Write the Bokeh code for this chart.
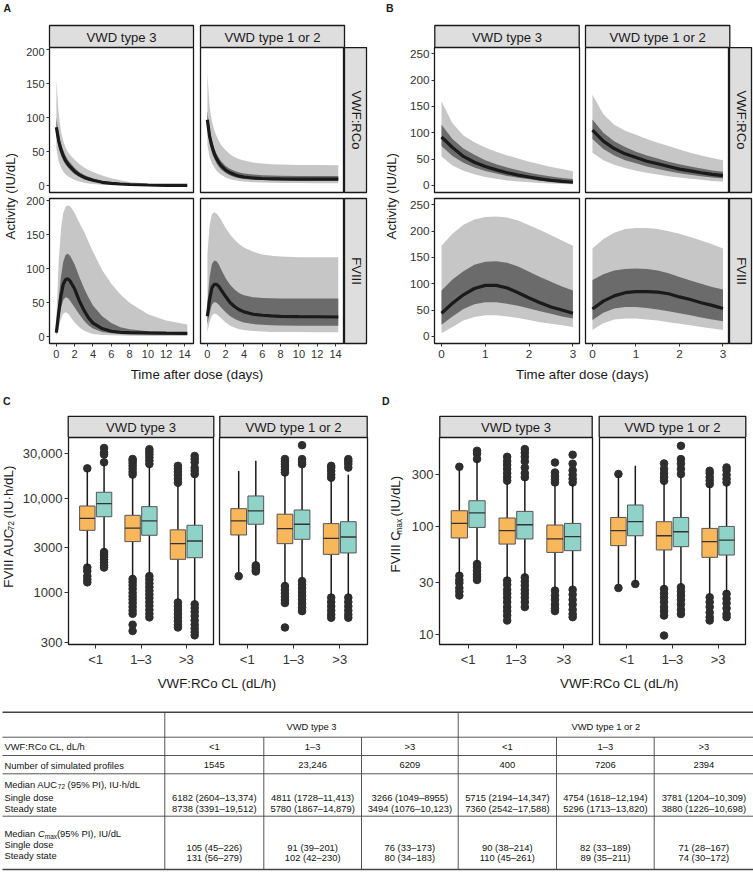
import math
from bokeh.plotting import figure
from bokeh.layouts import row, column
from bokeh.models import Range1d, LinearAxis, LogAxis, FixedTicker
from bokeh.core.properties import value
from bokeh.embed import file_html
from bokeh.resources import INLINE

# ======================= DATA =======================
facets = ["VWD type 3", "VWD type 1 or 2"]
analytes = ["VWF:RCo", "FVIII"]

# Panel A: single dose, time after dose (days)
tA = [0, 0.25, 0.5, 0.75, 1, 1.25, 1.5, 2, 2.5, 3, 3.5, 4, 5, 6, 7, 8, 10, 12, 14.3]
a3_rco_med = [86, 66, 53, 44, 37, 32, 28, 21, 16, 12.5, 10, 8, 5, 3.5, 2.5, 1.8, 1, 0.6, 0.4]
a3_rco_hi90 = [155, 106, 80, 66, 56, 50, 45, 38, 32, 27, 23, 20, 15, 11, 8, 5.5, 2.8, 1.5, 1]
a3_rco_hi50 = [100, 76, 62, 52, 44, 38, 34, 26, 20, 16, 13, 10.5, 7, 5, 3.6, 2.6, 1.5, 0.9, 0.6]
a3_rco_lo50 = [74, 56, 45, 37, 31, 27, 23, 17, 13, 9.5, 7.5, 6, 3.6, 2.4, 1.6, 1.1, 0.6, 0.35, 0.2]
a3_rco_lo90 = [55, 36, 27, 21, 17, 14, 12, 8.5, 6, 4.5, 3.4, 2.6, 1.5, 1, 0.7, 0.5, 0.3, 0.2, 0.1]

a12_rco_med = [97, 72, 58, 47, 40, 34, 29.5, 23, 19, 16, 14, 12.8, 11.3, 10.6, 10.2, 10, 9.8, 9.7, 9.6]
a12_rco_hi90 = [165, 115, 95, 82, 73, 66, 60, 52, 46, 42, 39, 37, 34, 32.5, 31.5, 31, 30.5, 30.3, 30.2]
a12_rco_hi50 = [110, 82, 66, 55, 47, 41, 36, 29, 24.5, 21.5, 19.5, 18, 16.5, 15.5, 15, 14.7, 14.4, 14.3, 14.2]
a12_rco_lo50 = [85, 62, 49, 40, 33, 28, 24, 18.5, 15, 12.5, 11, 10, 8.8, 8.2, 7.8, 7.6, 7.4, 7.3, 7.2]
a12_rco_lo90 = [60, 42, 33, 27, 22, 18.5, 16, 12, 9.5, 8, 7, 6.2, 5.2, 4.6, 4.2, 4, 3.8, 3.7, 3.6]

a3_f8_med = [6, 35, 60, 77, 84, 85, 82, 70, 53, 39, 28, 20, 12, 8, 6.5, 6, 5.5, 5.2, 5]
a3_f8_hi90 = [25, 110, 158, 182, 191, 193, 192, 182, 168, 155, 140, 125, 98, 78, 62, 50, 33, 24, 18]
a3_f8_hi50 = [12, 55, 88, 110, 120, 122, 119, 106, 88, 72, 58, 46, 30, 20, 14, 11, 8, 7, 6.5]
a3_f8_lo50 = [3, 22, 42, 54, 58, 57, 53, 43, 33, 24, 17, 12, 7, 5, 4, 3.5, 3.2, 3, 3]
a3_f8_lo90 = [1, 12, 26, 34, 36, 34, 30, 21, 14, 9, 6, 4, 2.5, 2, 1.6, 1.4, 1.2, 1.1, 1]

a12_f8_med = [30, 55, 72, 77, 77, 74, 69, 59, 50, 44, 39.5, 36.5, 33, 31.5, 30.5, 30, 29.5, 29.3, 29]
a12_f8_hi90 = [120, 165, 180, 183, 181, 177, 172, 160, 150, 142, 136, 131, 125, 121, 119, 118, 117, 117, 117]
a12_f8_hi50 = [48, 88, 107, 112, 111, 106, 99, 86, 76, 69, 64, 61, 58, 57, 56.5, 56, 56, 56, 56]
a12_f8_lo50 = [18, 35, 47, 51, 50, 47, 43, 36, 30, 26, 23, 21, 18.5, 17.5, 17, 16.5, 16, 16, 16]
a12_f8_lo90 = [7, 22, 31, 34, 33, 30, 27, 21, 16, 13, 11, 10, 8.5, 7.5, 7, 7, 6.8, 6.7, 6.7]

# Panel B: steady state, time after dose (days)
tB = [0, 0.25, 0.5, 0.75, 1, 1.25, 1.5, 1.75, 2, 2.25, 2.5, 2.75, 3]
b3_rco_med = [92, 72, 55, 44, 36, 29.5, 24, 19.5, 16, 12.5, 9.5, 7.5, 6]
b3_rco_hi90 = [160, 118, 95, 82, 72, 64, 57, 51, 45, 40, 35, 31, 27]
b3_rco_hi50 = [115, 88, 70, 58, 48, 40, 34, 29, 24, 20, 17, 14, 12]
b3_rco_lo50 = [75, 56, 43, 34, 27.5, 22.5, 18, 14.5, 11.5, 9, 7, 5.5, 4.2]
b3_rco_lo90 = [55, 38, 28, 21, 16, 12.5, 9.5, 7.5, 6, 4.5, 3.5, 2.5, 2]

b12_rco_med = [105, 84, 70, 60, 53, 46, 41, 36, 31, 27.5, 24, 21, 18.5]
b12_rco_hi90 = [172, 135, 115, 104, 96, 88, 81, 75, 68, 62, 57, 52, 48]
b12_rco_hi50 = [125, 100, 84, 73, 64, 57, 51, 45, 40, 36, 32, 28.5, 26]
b12_rco_lo50 = [88, 69, 57, 48, 42, 36, 31, 27, 23, 20, 17.5, 15, 13]
b12_rco_lo90 = [62, 48, 39, 33, 28, 24, 20.5, 17.5, 15, 12.5, 10.5, 8.5, 7]

b3_f8_med = [44, 63, 79, 91, 97, 97, 92, 83, 73, 64, 56, 50, 44]
b3_f8_hi90 = [172, 195, 212, 222, 227, 228, 226, 220, 211, 202, 192, 182, 172]
b3_f8_hi50 = [87, 108, 124, 136, 142, 143, 140, 133, 123, 113, 104, 95, 87]
b3_f8_lo50 = [22, 38, 52, 61, 65, 65, 62, 58, 53, 48, 43, 38, 34]
b3_f8_lo90 = [6, 18, 30, 37, 40, 40, 38, 35, 31, 27, 24, 21, 18]

b12_f8_med = [52, 67, 77, 83, 85, 85, 84, 81, 75, 70, 64, 59, 53]
b12_f8_hi90 = [167, 185, 197, 204, 206, 206, 204, 200, 195, 189, 182, 175, 167]
b12_f8_hi50 = [107, 118, 125, 128, 129, 128, 125, 120, 113, 106, 100, 94, 89]
b12_f8_lo50 = [31, 45, 53, 56, 56, 54, 51, 48, 44, 40, 36, 32, 29]
b12_f8_lo90 = [12, 25, 32, 34, 34, 32, 30, 27, 24, 21, 18, 15, 12]

# Panels C/D: boxes ordered <1 SD, <1 SS, 1-3 SD, 1-3 SS, >3 SD, >3 SS
cl_cats = ["<1", "1–3", ">3"]
regimens = ["Single dose", "Steady state"]

auc3_q1 = [4580, 6380, 3480, 4060, 2260, 2350]
auc3_med = [6140, 8770, 4820, 5750, 3310, 3530]
auc3_q3 = [8280, 11570, 6600, 8150, 4630, 5180]
auc3_wlo = [1950, 2850, 1500, 1600, 850, 820]
auc3_whi = [19500, 22500, 16500, 21500, 13500, 16500]
auc3_out = [
    [20700, 1850, 1700, 1500, 1380, 1290],
    [34000, 30500, 29000, 24000, 2700, 2550, 2400, 2250, 2100, 1950, 1850],
    [17800, 19000, 20500, 22000, 23500, 25000, 26000, 1400, 1300, 1200, 1100, 1000, 920, 850, 780, 710, 650, 600, 460, 395],
    [23000, 25000, 27000, 29000, 31000, 33000, 1500, 1380, 1260, 1150, 1050, 960, 880, 800, 730, 660, 600, 550],
    [14600, 16000, 17500, 19000, 20500, 22000, 790, 720, 660, 600, 550, 500, 460, 430],
    [18000, 19500, 21000, 24000, 26000, 28000, 755, 690, 630, 570, 510, 460, 420, 385, 355],
]
auc12_q1 = [4090, 5310, 3310, 3680, 2550, 2640]
auc12_med = [5750, 7350, 4770, 5310, 3770, 3890]
auc12_q3 = [7760, 10570, 6780, 7510, 5390, 5650]
auc12_wlo = [1650, 2100, 1250, 1450, 950, 950]
auc12_whi = [19450, 24850, 17500, 21000, 15500, 17700]
auc12_out = [
    [1500],
    [1950, 1850, 1750, 1680],
    [18700, 20000, 21500, 23000, 24500, 26000, 1180, 1080, 990, 910, 840, 780, 430],
    [22900, 24200, 25900, 36400, 1330, 1220, 1120, 1020, 930, 850, 770, 700, 640],
    [16500, 17800, 19500, 21000, 22000, 890, 800, 720, 650, 590, 545],
    [21100, 23000, 24500, 25900, 890, 800, 720, 650, 590, 545],
]

cmax3_q1 = [78.2, 97.9, 68.7, 76.6, 57.5, 59.7]
cmax3_med = [106.6, 133.6, 91.3, 103.7, 76.6, 80.4]
cmax3_q3 = [139.7, 172.8, 119.6, 137.8, 103, 106.6]
cmax3_wlo = [37, 47, 33, 35, 27, 28]
cmax3_whi = [330, 400, 250, 270, 235, 245]
cmax3_out = [
    [356, 35, 32, 30, 27, 25, 23],
    [500, 470, 420, 45, 42, 39, 36, 34, 32],
    [265, 285, 310, 340, 370, 400, 440, 31.6, 29, 26, 24, 22, 20, 18, 16.5, 15, 13.5],
    [285, 310, 350, 400, 440, 480, 519, 33.8, 31, 28.5, 26, 24, 22, 20, 18],
    [255, 270, 290, 315, 390, 25.5, 23, 21, 19, 17.5, 16.5],
    [255, 275, 300, 330, 380, 460, 26, 23.5, 21, 19, 17, 15.5, 14.5],
]
cmax12_q1 = [66.4, 82, 60.6, 65, 51.8, 54.4]
cmax12_med = [91.3, 111, 82, 89.3, 72.3, 74.8]
cmax12_q3 = [121, 157.8, 110.5, 121, 95.9, 100]
cmax12_wlo = [29, 31, 28, 29, 23.5, 25]
cmax12_whi = [290, 363, 250, 285, 235, 240]
cmax12_out = [
    [305, 27],
    [29.4],
    [264, 285, 310, 340, 382, 26.4, 24, 22, 20, 18, 16.5, 15, 9.8],
    [305, 340, 380, 419, 556, 27.4, 25, 23, 21, 19, 17, 15.5],
    [246, 265, 285, 310, 327, 22.1, 20, 18, 16, 14.5, 13.5],
    [255, 275, 300, 330, 351, 23.8, 21.5, 19.5, 17.5, 15.5, 14.5],
]

# Table
tbl_groups = ["VWD type 3", "VWD type 1 or 2"]
tbl_cl = ["<1", "1–3", ">3", "<1", "1–3", ">3"]
tbl_n = ["1545", "23,246", "6209", "400", "7206", "2394"]
tbl_auc_sd = ["6182 (2604–13,374)", "4811 (1728–11,413)", "3266 (1049–8955)",
              "5715 (2194–14,347)", "4754 (1618–12,194)", "3781 (1204–10,309)"]
tbl_auc_ss = ["8738 (3391–19,512)", "5780 (1867–14,879)", "3494 (1076–10,123)",
              "7360 (2542–17,588)", "5296 (1713–13,820)", "3880 (1226–10,698)"]
tbl_cmax_sd = ["105 (45–226)", "91 (39–201)", "76 (33–173)", "90 (38–214)", "82 (33–189)", "71 (28–167)"]
tbl_cmax_ss = ["131 (56–279)", "102 (42–230)", "80 (34–183)", "110 (45–261)", "89 (35–211)", "74 (30–172)"]

# ======================= STYLE =======================
S = 1.0
FONT = "Liberation Sans"
LIGHT = "#c6c6c6"
DARK = "#6b6b6b"
LINE = "#1a1a1a"
STRIP = "#dedede"
FRAME = "#1a1a1a"
TXT = "#1a1a1a"
TICK = "#333333"
ORANGE = "#F8B75B"
TEAL = "#8FD3C8"
BOXL = "#555555"
PT = "#2e2e2e"
BW = 0.34
DODGE = 0.185

CW = {' ': .278, '(': .333, ')': .333, '/': .278, '·': .278, '%': .889, ',': .278, '–': .556,
      'A': .667, 'C': .722, 'F': .611, 'I': .278, 'L': .556, 'P': .667, 'U': .722, 'V': .667,
      'M': .833, 'a': .556, 'd': .556, 'e': .556, 'h': .556, 'i': .222, 'm': .833, 'n': .556,
      'x': .5, 'l': .222, 'o': .556, 's': .5, 't': .278, 'y': .5, 'u': .556, 'r': .333, 'f': .278}


def tw(s, size):
    return sum(CW.get(c, .556) for c in s) * size


def X(v):
    return int(round(v * S))


def fs(v):
    return f"{v * S:.2f}px"


def tile(x0, x1, y0, y1, fx0=None, fx1=None, fy0=None, fy1=None,
         xr=None, yr=None, xlog=False, ylog=False, outline=None, bg="white"):
    fx0 = x0 if fx0 is None else fx0
    fx1 = x1 if fx1 is None else fx1
    fy0 = y0 if fy0 is None else fy0
    fy1 = y1 if fy1 is None else fy1
    if xr is None:
        xr = Range1d(fx0, fx1)
    if yr is None:
        yr = Range1d(fy1, fy0)
    p = figure(width=X(x1) - X(x0), height=X(y1) - X(y0), x_range=xr, y_range=yr,
               x_axis_type="log" if xlog else "linear",
               y_axis_type="log" if ylog else "linear",
               x_axis_location=None, y_axis_location=None, title=None,
               toolbar_location=None, output_backend="svg",
               min_border_left=X(fx0) - X(x0), min_border_right=X(x1) - X(fx1),
               min_border_top=X(fy0) - X(y0), min_border_bottom=X(y1) - X(fy1))
    p.grid.visible = False
    p.background_fill_color = bg
    p.border_fill_color = "white"
    p.outline_line_color = outline
    p.outline_line_width = 1.3 * S
    return p


def txt(p, x, y, s, size, align="center", baseline="middle", angle=0.0, style="normal", color=TXT):
    p.text(x=[x], y=[y], text=[s], text_font=value(FONT), text_font_size=value(fs(size)),
           text_align=align, text_baseline=baseline, angle=angle, text_font_style=style,
           text_color=color)


def add_axis(p, side, ticks, size, log=False, overrides=None, tick_out=3, standoff=2):
    ax = (LogAxis if log else LinearAxis)(ticker=FixedTicker(ticks=ticks))
    if overrides:
        ax.major_label_overrides = overrides
    ax.axis_line_color = None
    ax.major_tick_line_color = TICK
    ax.major_tick_line_width = 1
    ax.major_tick_out = tick_out
    ax.major_tick_in = 0
    ax.minor_tick_line_color = None
    ax.major_label_text_font = FONT
    ax.major_label_text_font_size = fs(size)
    ax.major_label_text_color = TICK
    ax.major_label_standoff = standoff
    p.add_layout(ax, side)


def head(x0, x1, y0, y1, letter, lx, ly, strips, sy0, sy1):
    p = tile(x0, x1, y0, y1)
    p.quad(left=[a for a, b in strips], right=[b for a, b in strips],
           top=[sy0] * len(strips), bottom=[sy1] * len(strips),
           fill_color=STRIP, line_color=FRAME, line_width=1.3 * S)
    for (a, b), lab in zip(strips, facets):
        txt(p, (a + b) / 2, (sy0 + sy1) / 2 + 0.5, lab, 13.1)
    txt(p, lx, ly, letter, 10.5, style="bold")
    return p


def side_strip(x0, x1, y0, y1, fx0, fx1, fy0, fy1, label):
    p = tile(x0, x1, y0, y1, fx0, fx1, fy0, fy1, outline=FRAME, bg=STRIP)
    txt(p, (fx0 + fx1) / 2 + 0.5, (fy0 + fy1) / 2, label, 13.1, angle=-math.pi / 2)
    return p


def rot_title(x0, x1, y0, y1, cx, cy, pieces):
    # pieces: (text, size, offset toward text-bottom, gap before, style)
    p = tile(x0, x1, y0, y1)
    total = sum(tw(t, sz) + gap for t, sz, dx, gap, st in pieces)
    pos = cy + total / 2
    for t, sz, dx, gap, st in pieces:
        lead = len(t) - len(t.lstrip(" "))
        pos -= tw(" " * lead, sz) + gap
        core = t.strip(" ")
        txt(p, cx + dx, pos, core, sz, align="left", angle=math.pi / 2, style=st)
        pos -= tw(core, sz)
    return p


def foot(x0, x1, y0, y1, cx, cy, label):
    p = tile(x0, x1, y0, y1)
    txt(p, cx, cy, label, 13.3)
    return p


def bands(p, t, lo90, hi90, lo50, hi50, med):
    p.varea(x=t, y1=lo90, y2=hi90, fill_color=LIGHT)
    p.varea(x=t, y1=lo50, y2=hi50, fill_color=DARK)
    p.line(x=t, y=med, line_color=LINE, line_width=3.2 * S)


def boxes(p, q1, med, q3, wlo, whi, outs):
    xs = [c + off for c in range(1, len(cl_cats) + 1) for off in (-DODGE, DODGE)]
    fills = [ORANGE, TEAL] * len(cl_cats)
    ox = [xs[k] for k, o in enumerate(outs) for _ in o]
    oy = [v for o in outs for v in o]
    p.scatter(ox, oy, size=7.6 * S, fill_color=PT, line_color=PT)
    p.segment(x0=xs, y0=wlo, x1=xs, y1=q1, line_color=LINE, line_width=1.5 * S)
    p.segment(x0=xs, y0=q3, x1=xs, y1=whi, line_color=LINE, line_width=1.5 * S)
    p.vbar(x=xs, width=BW, bottom=q1, top=q3, fill_color=fills, line_color=BOXL, line_width=1.0)
    p.segment(x0=[x - BW / 2 for x in xs], x1=[x + BW / 2 for x in xs], y0=med, y1=med,
              line_color="#333333", line_width=1.3 * S)


# ======================= PANEL A =======================
AX = (-0.75, 14.98)
AY = (-10, 203.2)
A_head = head(0, 376, 0, 47, "A", 6.7, 7, [(49, 193), (200, 344)], 25, 47)
A_yt = rot_title(0, 18, 47, 364, 9.5, 195, [("Activity (IU/dL)", 13.3, 0, 0, "normal")])

f11 = tile(18, 196.5, 47, 195, 49, 193, 47, 192, xr=Range1d(*AX), yr=Range1d(*AY), outline=FRAME)
bands(f11, tA, a3_rco_lo90, a3_rco_hi90, a3_rco_lo50, a3_rco_hi50, a3_rco_med)
add_axis(f11, "left", [0, 50, 100, 150, 200], 11)
f12 = tile(196.5, 344, 47, 195, 200, 344, 47, 192, xr=Range1d(*AX), yr=Range1d(*AY), outline=FRAME)
bands(f12, tA, a12_rco_lo90, a12_rco_hi90, a12_rco_lo50, a12_rco_hi50, a12_rco_med)
rs1 = side_strip(344, 376, 47, 195, 344, 366, 47, 192, analytes[0])

f21 = tile(18, 196.5, 195, 364, 49, 193, 198, 343, xr=Range1d(*AX), yr=Range1d(*AY), outline=FRAME)
bands(f21, tA, a3_f8_lo90, a3_f8_hi90, a3_f8_lo50, a3_f8_hi50, a3_f8_med)
add_axis(f21, "left", [0, 50, 100, 150, 200], 11)
add_axis(f21, "below", list(range(0, 15, 2)), 11, standoff=3)
f22 = tile(196.5, 344, 195, 364, 200, 344, 198, 343, xr=Range1d(*AX), yr=Range1d(*AY), outline=FRAME)
bands(f22, tA, a12_f8_lo90, a12_f8_hi90, a12_f8_lo50, a12_f8_hi50, a12_f8_med)
add_axis(f22, "below", list(range(0, 15, 2)), 11, standoff=3)
rs2 = side_strip(344, 376, 195, 364, 344, 366, 198, 343, analytes[1])
A_foot = foot(0, 376, 364, 392, 196.5, 374, "Time after dose (days)")

A_block = column(A_head, row(A_yt, column(row(f11, f12, rs1), row(f21, f22, rs2))), A_foot)

# ======================= PANEL B =======================
BX = (-0.16, 3.15)
BY = (-13.5, 262)
B_head = head(376, 753, 0, 47, "B", 389.3, 7, [(434.3, 578.7), (585, 729.3)], 25, 47)
B_yt = rot_title(376, 400, 47, 364, 391, 195, [("Activity (IU/dL)", 13.3, 0, 0, "normal")])
g11 = tile(400, 581.85, 47, 195, 434.3, 578.7, 47, 192, xr=Range1d(*BX), yr=Range1d(*BY), outline=FRAME)
bands(g11, tB, b3_rco_lo90, b3_rco_hi90, b3_rco_lo50, b3_rco_hi50, b3_rco_med)
add_axis(g11, "left", [0, 50, 100, 150, 200, 250], 11.7)
g12 = tile(581.85, 729.3, 47, 195, 585, 729.3, 47, 192, xr=Range1d(*BX), yr=Range1d(*BY), outline=FRAME)
bands(g12, tB, b12_rco_lo90, b12_rco_hi90, b12_rco_lo50, b12_rco_hi50, b12_rco_med)
rsb1 = side_strip(729.3, 753, 47, 195, 729.3, 751, 47, 192, analytes[0])
g21 = tile(400, 581.85, 195, 364, 434.3, 578.7, 198, 343, xr=Range1d(*BX), yr=Range1d(*BY), outline=FRAME)
bands(g21, tB, b3_f8_lo90, b3_f8_hi90, b3_f8_lo50, b3_f8_hi50, b3_f8_med)
add_axis(g21, "left", [0, 50, 100, 150, 200, 250], 11.7)
add_axis(g21, "below", [0, 1, 2, 3], 11.7, standoff=3)
g22 = tile(581.85, 729.3, 195, 364, 585, 729.3, 198, 343, xr=Range1d(*BX), yr=Range1d(*BY), outline=FRAME)
bands(g22, tB, b12_f8_lo90, b12_f8_hi90, b12_f8_lo50, b12_f8_hi50, b12_f8_med)
add_axis(g22, "below", [0, 1, 2, 3], 11.7, standoff=3)
rsb2 = side_strip(729.3, 753, 195, 364, 729.3, 751, 198, 343, analytes[1])
B_foot = foot(376, 753, 364, 392, 581.8, 374, "Time after dose (days)")

B_block = column(B_head, row(B_yt, column(row(g11, g12, rsb1), row(g21, g22, rsb2))), B_foot)

# ======================= PANEL C =======================
CATX = (0.4, 3.6)
CY = (284, 43900)
cat_over = {i + 1: c for i, c in enumerate(cl_cats)}
auc_ticks = [300, 1000, 3000, 10000, 30000]
auc_over = {300: "300", 1000: "1000", 3000: "3000", 10000: "10,000", 30000: "30,000"}

C_head = head(0, 376, 392, 436.7, "C", 6.3, 400.3, [(67.7, 213.3), (219.3, 366.7)], 415.7, 436.7)
C_yt = rot_title(0, 16, 436.7, 672, 7.5, 542,
                 [("FVIII AUC", 13.3, 0, 0, "normal"), ("72", 8.5, 3.4, 5.0, "normal"),
                  (" (IU·h/dL)", 13.3, 0, 1.0, "normal")])
c1 = tile(16, 216.3, 436.7, 672, 67.7, 213.3, 436.7, 644, xr=Range1d(*CATX), yr=Range1d(*CY),
          ylog=True, outline=FRAME)
boxes(c1, auc3_q1, auc3_med, auc3_q3, auc3_wlo, auc3_whi, auc3_out)
add_axis(c1, "left", auc_ticks, 13, log=True, overrides=auc_over, tick_out=4)
add_axis(c1, "below", [1, 2, 3], 13, overrides=cat_over, tick_out=4, standoff=3)
c2 = tile(216.3, 376, 436.7, 672, 219.3, 366.7, 436.7, 644, xr=Range1d(*CATX), yr=Range1d(*CY),
          ylog=True, outline=FRAME)
boxes(c2, auc12_q1, auc12_med, auc12_q3, auc12_wlo, auc12_whi, auc12_out)
add_axis(c2, "below", [1, 2, 3], 13, overrides=cat_over, tick_out=4, standoff=3)
C_foot = foot(0, 376, 672, 700, 216.7, 683, "VWF:RCo CL (dL/h)")
C_block = column(C_head, row(C_yt, c1, c2), C_foot)

# ======================= PANEL D =======================
DY = (8.1, 664)
cmax_ticks = [10, 30, 100, 300]
cmax_over = {10: "10", 30: "30", 100: "100", 300: "300"}
D_head = head(376, 753, 392, 436.7, "D", 385.3, 400.3, [(439.3, 591.7), (598.7, 745.3)], 415.7, 436.7)
D_yt = rot_title(376, 404, 436.7, 672, 395, 538,
                 [("FVIII C", 13.3, 0, 0, "normal"), ("max", 8.5, 3.4, 1.5, "normal"),
                  (" (IU/dL)", 13.3, 0, 1.0, "normal")])
d1 = tile(404, 595.2, 436.7, 672, 439.3, 591.7, 436.7, 644, xr=Range1d(*CATX), yr=Range1d(*DY),
          ylog=True, outline=FRAME)
boxes(d1, cmax3_q1, cmax3_med, cmax3_q3, cmax3_wlo, cmax3_whi, cmax3_out)
add_axis(d1, "left", cmax_ticks, 13, log=True, overrides=cmax_over, tick_out=4)
add_axis(d1, "below", [1, 2, 3], 13, overrides=cat_over, tick_out=4, standoff=3)
d2 = tile(595.2, 753, 436.7, 672, 598.7, 745.3, 436.7, 644, xr=Range1d(*CATX), yr=Range1d(*DY),
          ylog=True, outline=FRAME)
boxes(d2, cmax12_q1, cmax12_med, cmax12_q3, cmax12_wlo, cmax12_whi, cmax12_out)
add_axis(d2, "below", [1, 2, 3], 13, overrides=cat_over, tick_out=4, standoff=3)
D_foot = foot(376, 753, 672, 700, 619, 683, "VWF:RCo CL (dL/h)")
D_block = column(D_head, row(D_yt, d1, d2), D_foot)

# ======================= TABLE =======================
TF = 9.4
TCOL = "#111111"
tb = tile(0, 753, 700, 872)
col_edges = [164.3, 263.3, 361, 457.7, 556, 653.7, 753]
col_mid = [(col_edges[i] + col_edges[i + 1]) / 2 for i in range(6)]
hl = [711.7, 736.7, 755, 773.3, 815.7, 869]
tb.segment(x0=[2] * len(hl), x1=[753] * len(hl), y0=hl, y1=hl, line_color="#444444",
           line_width=[1.4 * S, 0.9 * S, 0.9 * S, 0.9 * S, 0.9 * S, 1.4 * S])
tb.segment(x0=[164.3, 457.7], x1=[164.3, 457.7], y0=[711.7, 711.7], y1=[869, 869],
           line_color="#444444", line_width=0.9 * S)
part = [263.3, 361, 556, 653.7]
tb.segment(x0=part, x1=part, y0=[736.7] * 4, y1=[869] * 4, line_color="#444444", line_width=0.9 * S)


def ttxt(x, y, s, align="center", size=TF, style="normal"):
    txt(tb, x, y, s, size, align=align, style=style, color=TCOL)


ttxt((164.3 + 457.7) / 2, 725.5, tbl_groups[0])
ttxt((457.7 + 753) / 2, 725.5, tbl_groups[1])
ttxt(4, 746, "VWF:RCo CL, dL/h", align="left")
ttxt(4, 764.5, "Number of simulated profiles", align="left")
for i in range(6):
    ttxt(col_mid[i], 746, tbl_cl[i])
    ttxt(col_mid[i], 764.5, tbl_n[i])
    ttxt(col_mid[i], 797.3, tbl_auc_sd[i])
    ttxt(col_mid[i], 808.3, tbl_auc_ss[i])
    ttxt(col_mid[i], 846.7, tbl_cmax_sd[i])
    ttxt(col_mid[i], 857, tbl_cmax_ss[i])


def hpieces(x, y, pieces):
    for t, sz, dy, st in pieces:
        lead = len(t) - len(t.lstrip(" "))
        x += tw(" " * lead, sz)
        core = t.strip(" ")
        ttxt(x, y + dy, core, align="left", size=sz, style=st)
        x += tw(core, sz)
        x += tw(" " * (len(t) - lead - len(core)), sz)


hpieces(4, 784, [("Median AUC", TF, 0, "normal"), ("72", 6.5, 2.3, "normal"),
                 (" (95%  PI), IU·h/dL", TF, 0, "normal")])
ttxt(4, 797.3, regimens[0], align="left")
ttxt(4, 808.3, regimens[1], align="left")
hpieces(4, 833.3, [("Median ", TF, 0, "normal"), ("C", TF, 0, "italic"), ("max", 6.5, 2.3, "normal"),
                   ("(95% PI), IU/dL", TF, 0, "normal")])
ttxt(4, 843.5, regimens[0], align="left")
ttxt(4, 855, regimens[1], align="left")

layout = column(row(A_block, B_block), row(C_block, D_block), tb)

open("out.html", "w").write(file_html(layout, INLINE))
